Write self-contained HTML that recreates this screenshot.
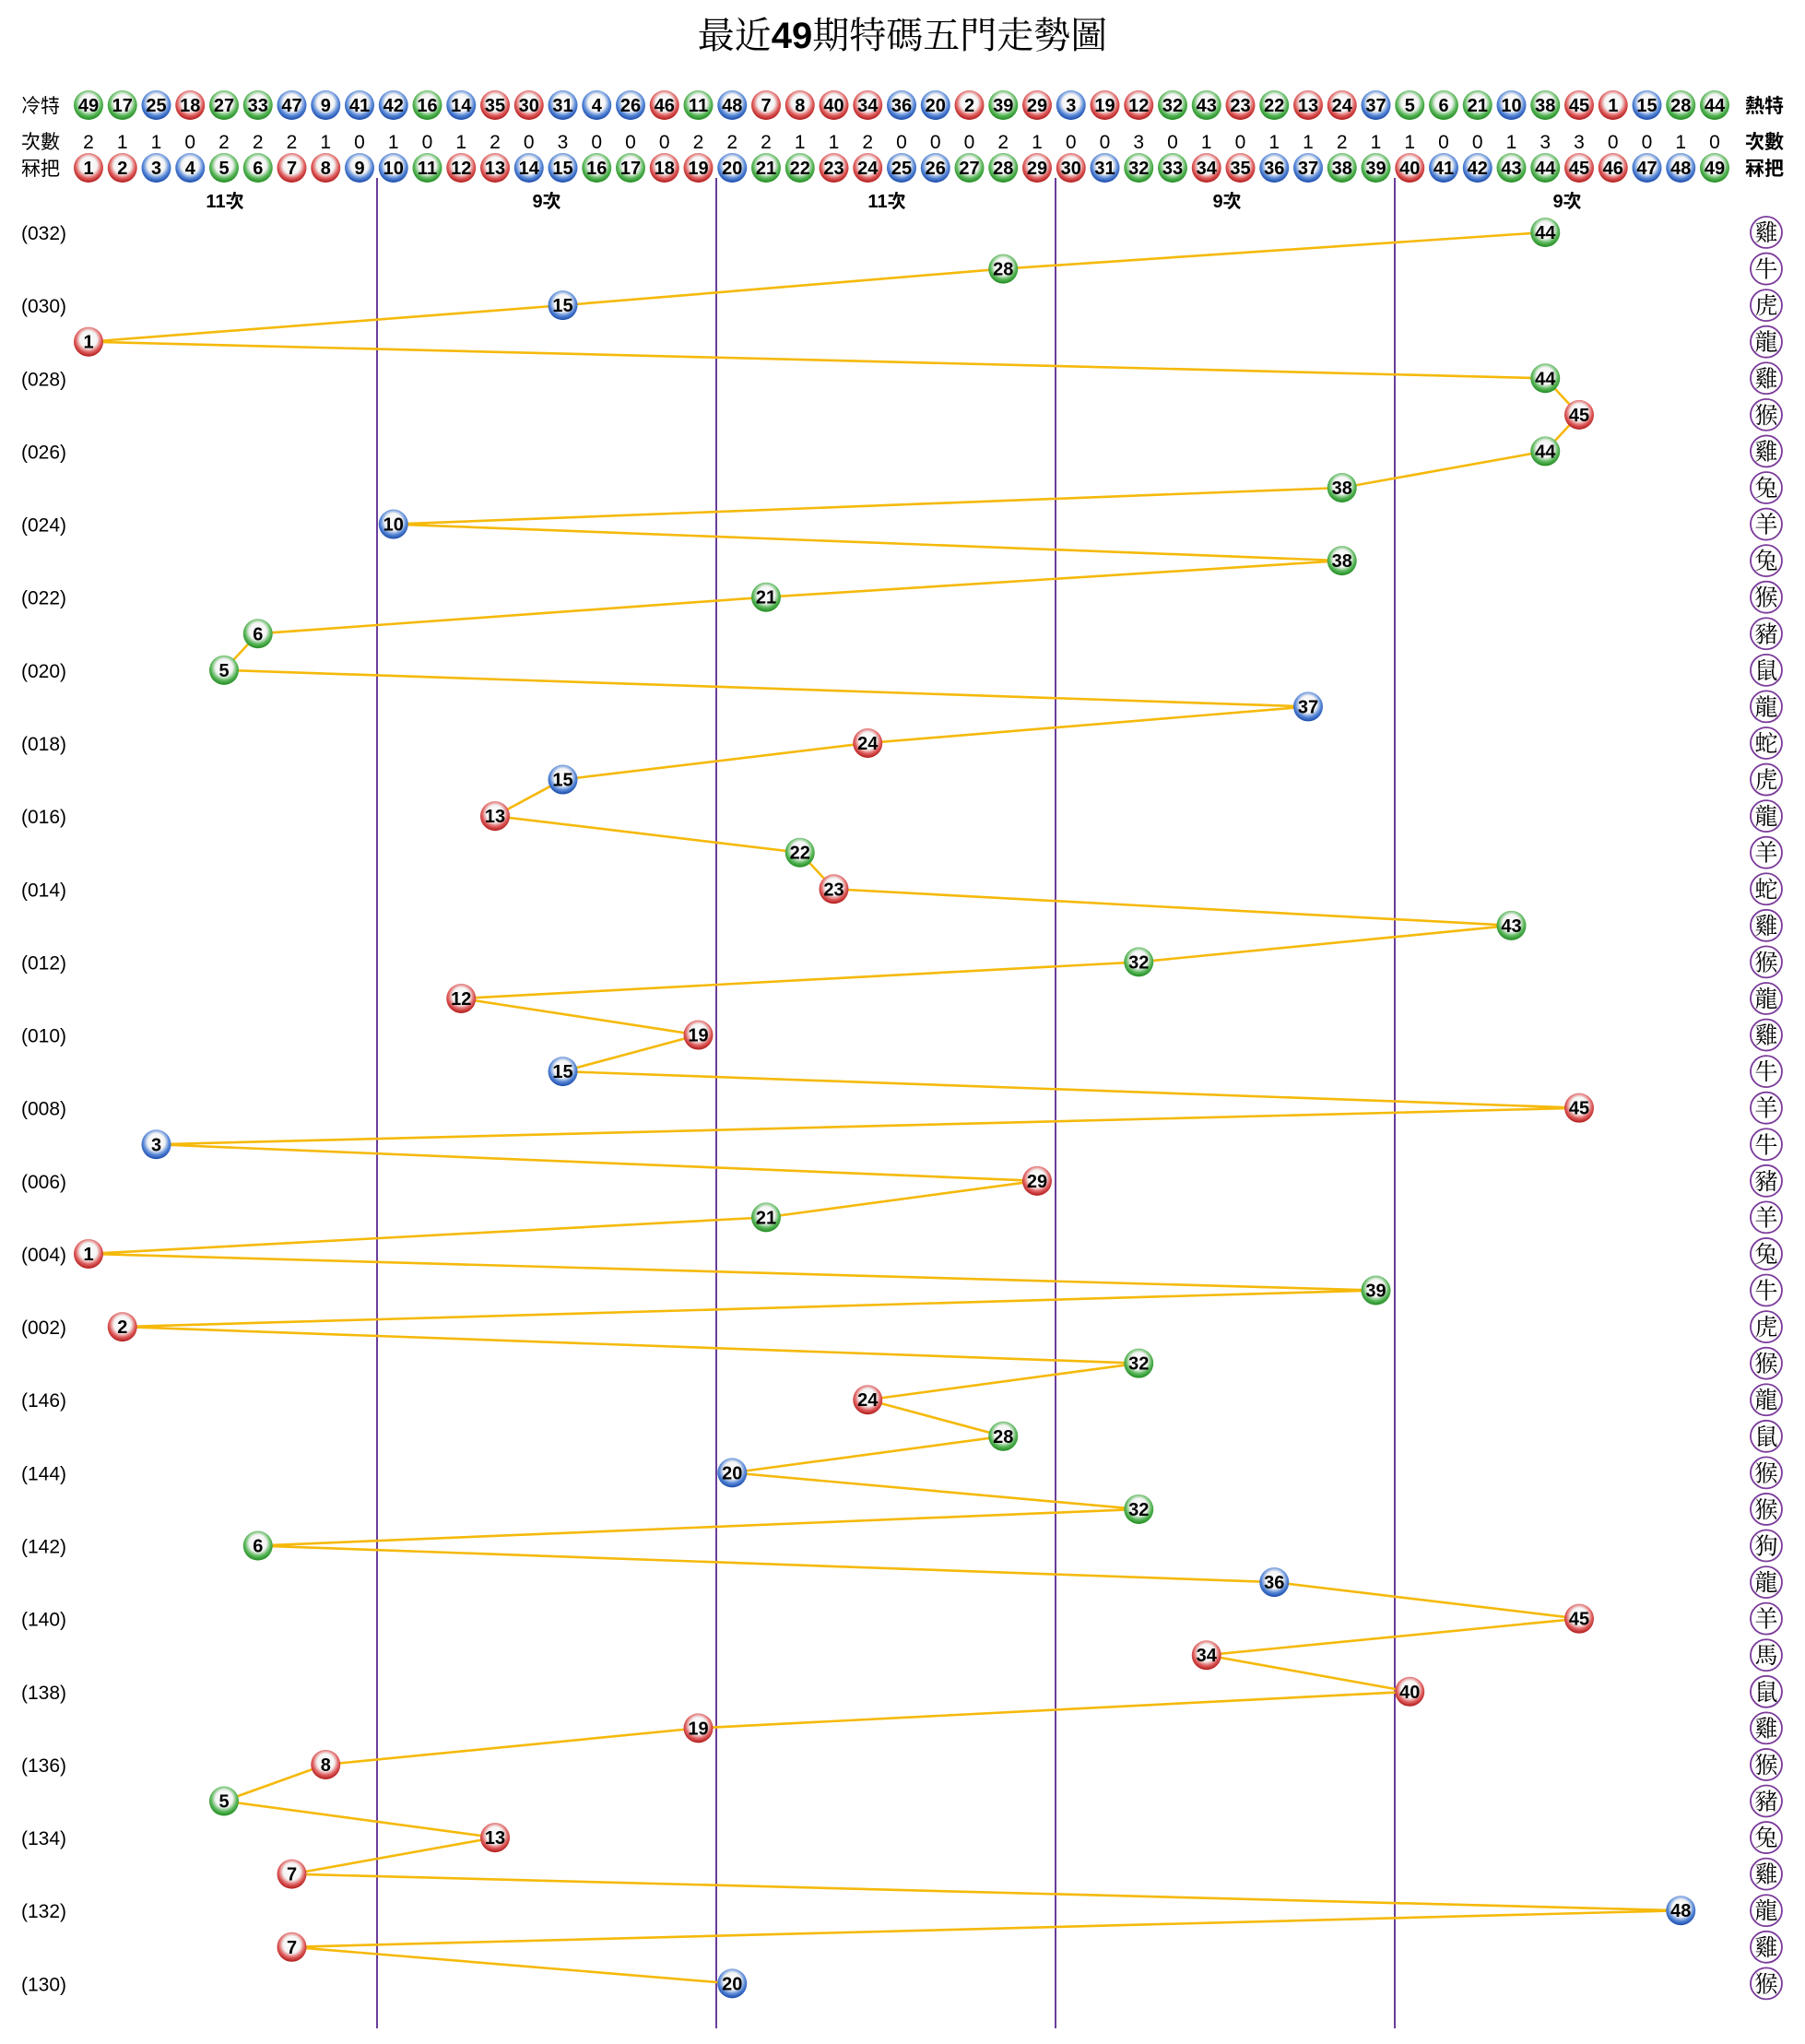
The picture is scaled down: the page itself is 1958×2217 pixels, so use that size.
<!DOCTYPE html>
<html><head><meta charset="utf-8"><style>
html,body{margin:0;padding:0;background:#fff;}
svg{display:block;}
</style></head><body>
<svg id="s" xmlns="http://www.w3.org/2000/svg" width="1958" height="2217" viewBox="0 0 1958 2217">
<defs>
<radialGradient id="gr" cx="50%" cy="42%" r="58%"><stop offset="0" stop-color="#fff"/><stop offset="0.5" stop-color="#f4f4f4"/><stop offset="0.75" stop-color="#e06060"/><stop offset="1" stop-color="#b01818"/></radialGradient>
<radialGradient id="gb" cx="50%" cy="42%" r="58%"><stop offset="0" stop-color="#fff"/><stop offset="0.5" stop-color="#f4f4f4"/><stop offset="0.75" stop-color="#5a8ad8"/><stop offset="1" stop-color="#1848a8"/></radialGradient>
<radialGradient id="gg" cx="50%" cy="42%" r="58%"><stop offset="0" stop-color="#fff"/><stop offset="0.5" stop-color="#f4f4f4"/><stop offset="0.75" stop-color="#5cb85c"/><stop offset="1" stop-color="#1f8a1f"/></radialGradient>
</defs>
<text x="979" y="52" text-anchor="middle" font-family="'Liberation Serif','Noto Serif CJK SC',serif" font-size="40">最近<tspan font-weight="bold" font-family="'Liberation Sans',sans-serif">49</tspan>期特碼五門走勢圖</text>
</svg>
<script>
var s=document.getElementById('s');
var red=[1,2,7,8,12,13,18,19,23,24,29,30,34,35,40,45,46],blue=[3,4,9,10,14,15,20,25,26,31,36,37,41,42,47,48];
function col(n){return red.indexOf(n)>=0?'gr':blue.indexOf(n)>=0?'gb':'gg';}
var h='';
function X(n){return 96+(n-1)*36.75;}
function ball(x,y,n){h+='<circle cx="'+x+'" cy="'+y+'" r="16" fill="url(#'+col(n)+')"/><text x="'+x+'" y="'+(y+7)+'" text-anchor="middle" font-family="Liberation Sans,sans-serif" font-weight="bold" font-size="20" fill="#000">'+n+'</text>';}
var F='font-family="Liberation Sans,Noto Sans CJK TC,sans-serif"';
h+='<text x="23" y="122" '+F+' font-size="21">冷特</text><text x="23" y="161" '+F+' font-size="21">次數</text><text x="23" y="190" '+F+' font-size="21">冧把</text>';
h+='<text x="1893" y="122" '+F+' font-size="21" font-weight="bold">熱特</text><text x="1893" y="161" '+F+' font-size="21" font-weight="bold">次數</text><text x="1893" y="190" '+F+' font-size="21" font-weight="bold">冧把</text>';
var cold=[49,17,25,18,27,33,47,9,41,42,16,14,35,30,31,4,26,46,11,48,7,8,40,34,36,20,2,39,29,3,19,12,32,43,23,22,13,24,37,5,6,21,10,38,45,1,15,28,44];
var cnt=[2,1,1,0,2,2,2,1,0,1,0,1,2,0,3,0,0,0,2,2,2,1,1,2,0,0,0,2,1,0,0,3,0,1,0,1,1,2,1,1,0,0,1,3,3,0,0,1,0];
for(var i=0;i<49;i++){ball(X(i+1),114,cold[i]);h+='<text x="'+X(i+1)+'" y="161" text-anchor="middle" '+F+' font-size="21">'+cnt[i]+'</text>';ball(X(i+1),182,i+1);}
[[244,'11次'],[593,'9次'],[962,'11次'],[1331,'9次'],[1700,'9次']].forEach(function(a){h+='<text x="'+a[0]+'" y="225" text-anchor="middle" '+F+' font-size="20" font-weight="bold">'+a[1]+'</text>';});
[409,777,1145,1513].forEach(function(x){h+='<line x1="'+x+'" y1="193" x2="'+x+'" y2="2200" stroke="#6a3d9a" stroke-width="2"/>';});
var d=[44,28,15,1,44,45,44,38,10,38,21,6,5,37,24,15,13,22,23,43,32,12,19,15,45,3,29,21,1,39,2,32,24,28,20,32,6,36,45,34,40,19,8,5,13,7,48,7,20];
var z='雞牛虎龍雞猴雞兔羊兔猴豬鼠龍蛇虎龍羊蛇雞猴龍雞牛羊牛豬羊兔牛虎猴龍鼠猴猴狗龍羊馬鼠雞猴豬兔雞龍雞猴';
var labs=[];for(var k=32;k>=2;k-=2)labs.push(k);for(k=146;k>=130;k-=2)labs.push(k);
function Y(i){return 252+i*39.57;}
var pts=d.map(function(n,i){return X(n)+','+Y(i);}).join(' ');
h+='<polyline points="'+pts+'" fill="none" stroke="#f5b90a" stroke-width="2.6"/>';
for(i=0;i<49;i++){
 ball(X(d[i]),Y(i),d[i]);
 h+='<circle cx="1916" cy="'+Y(i)+'" r="17" fill="#fff" stroke="#7a3a9a" stroke-width="1.8"/><text x="1916" y="'+(Y(i)+9)+'" text-anchor="middle" font-family="Noto Serif CJK TC,Noto Serif CJK SC,serif" font-size="25">'+z[i]+'</text>';
 if(i%2==0){var L=labs[i/2];h+='<text x="23" y="'+(Y(i)+8)+'" '+F+' font-size="21">('+('00'+L).slice(-3)+')</text>';}
}
s.insertAdjacentHTML('beforeend',h);
</script>
</body></html>
